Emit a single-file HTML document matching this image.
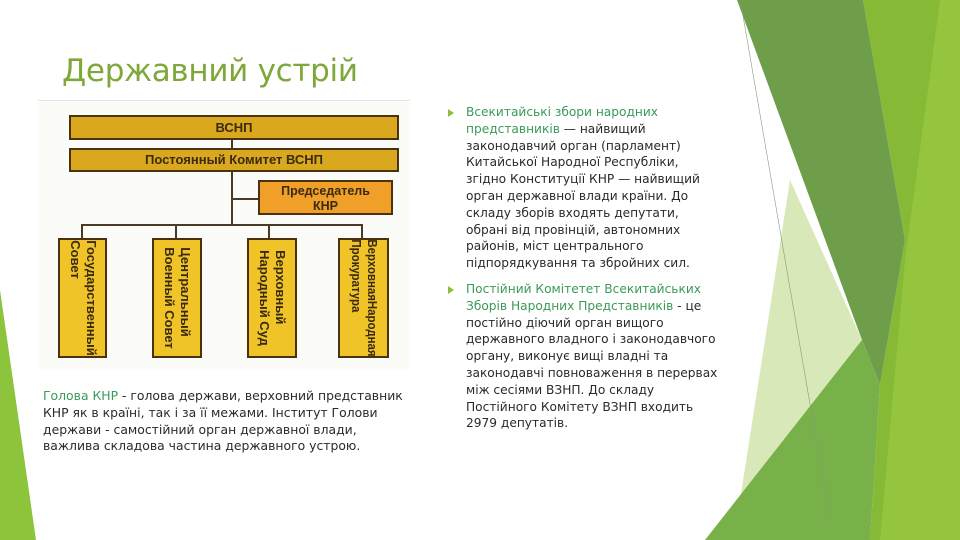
<!DOCTYPE html>
<html><head><meta charset="utf-8"><style>
html,body{margin:0;padding:0}
body{width:960px;height:540px;position:relative;overflow:hidden;background:#fff;font-family:"DejaVu Sans","Liberation Sans",sans-serif}
.t{position:absolute;white-space:nowrap}
.b{position:absolute;border:2px solid #4a3210;box-sizing:border-box;font-family:"Liberation Sans",sans-serif;font-weight:bold;color:#3a2a10;text-align:center}
.v{position:absolute;background:#f0c428;border:2px solid #4a3210;box-sizing:border-box}
.vt{position:absolute;left:50%;top:50%;transform:translate(-50%,-50%) rotate(90deg);font-family:"Liberation Sans",sans-serif;font-weight:bold;font-size:13px;line-height:16px;color:#3a2a10;text-align:left;white-space:nowrap}
.ln{position:absolute;background:#4a3a2a}
.p{position:absolute;left:466px;font-size:12.2px;line-height:16.8px;color:#2a2a2a;width:270px}
.g{color:#3a9a5a}
.tri{position:absolute;left:448px;width:0;height:0;border-top:4px solid transparent;border-bottom:4px solid transparent;border-left:6px solid #8cbf3a}
</style></head><body>
<svg width="960" height="540" style="position:absolute;left:0;top:0">
<polygon points="0,290 0,540 36,540" fill="#8cc43c"/>
<polygon points="863,0 960,0 960,540 870,540 880,385 905,240" fill="#86b936"/>
<polygon points="940,0 960,0 960,540 880,540 905,260" fill="#95c43e"/>
<polygon points="737,0 863,0 905,240 880,385 862,340" fill="#6e9e4a"/>
<polygon points="790,180 862,340 740,500" fill="#d8e8b8"/>
<polygon points="705,540 862,340 880,385 870,540" fill="#78b04a"/>
<line x1="742" y1="10" x2="830" y2="520" stroke="#8a9a80" stroke-width="0.6"/>
</svg>
<div class="t" style="left:62px;top:53px;font-size:31px;color:#7fa83a;font-family:'DejaVu Sans',sans-serif;letter-spacing:-0.3px">Державний устрій</div>
<div style="position:absolute;left:38px;top:100px;width:372px;height:1px;background:#e6e6e6"></div>
<div style="position:absolute;left:38px;top:102px;width:372px;height:268px;background:#fbfbf8"></div>
<div class="b" style="left:69px;top:115px;width:330px;height:25px;background:#d9a81e;font-size:13px;line-height:21px">ВСНП</div>
<div class="b" style="left:69px;top:148px;width:330px;height:24px;background:#d9a81e;font-size:13px;line-height:20px">Постоянный Комитет ВСНП</div>
<div class="ln" style="left:231px;top:140px;width:2px;height:8px"></div>
<div class="ln" style="left:231px;top:172px;width:2px;height:54px"></div>
<div class="ln" style="left:232px;top:198px;width:26px;height:2px"></div>
<div class="b" style="left:258px;top:180px;width:135px;height:35px;background:#f0a028;font-size:12.5px;line-height:15px;padding-top:2px">Председатель<br>КНР</div>
<div class="ln" style="left:82px;top:224px;width:281px;height:2px"></div>
<div class="ln" style="left:81px;top:224px;width:2px;height:14px"></div>
<div class="ln" style="left:175px;top:224px;width:2px;height:14px"></div>
<div class="ln" style="left:268px;top:224px;width:2px;height:14px"></div>
<div class="ln" style="left:361px;top:224px;width:2px;height:14px"></div>
<div class="v" style="left:58px;top:238px;width:49px;height:120px"><div class="vt">Государственный<br>Совет</div></div>
<div class="v" style="left:152px;top:238px;width:50px;height:120px"><div class="vt">Центральный<br>Военный Совет</div></div>
<div class="v" style="left:247px;top:238px;width:50px;height:120px"><div class="vt">Верховный<br>Народный Суд</div></div>
<div class="v" style="left:338px;top:238px;width:51px;height:120px"><div class="vt" style="transform:translate(-50%,-50%) rotate(90deg) scaleX(0.88)">ВерховнаяНародная<br>Прокуратура</div></div>
<div class="t" style="left:43px;top:388px;font-size:12.4px;line-height:16.8px;color:#2a2a2a"><span class="g">Голова КНР</span> - голова держави, верховний представник<br>КНР як в країні, так і за її межами. Інститут Голови<br>держави - самостійний орган державної влади,<br>важлива складова частина державного устрою.</div>
<div class="tri" style="top:109px"></div>
<div class="p" style="top:104px"><span class="g">Всекитайські збори народних<br>представників</span> — найвищий<br>законодавчий орган (парламент)<br>Китайської Народної Республіки,<br>згідно Конституції КНР — найвищий<br>орган державної влади країни. До<br>складу зборів входять депутати,<br>обрані від провінцій, автономних<br>районів, міст центрального<br>підпорядкування та збройних сил.</div>
<div class="tri" style="top:286px"></div>
<div class="p" style="top:281px"><span class="g">Постійний Комітетет Всекитайських<br>Зборів Народних Представників</span> - це<br>постійно діючий орган вищого<br>державного владного і законодавчого<br>органу, виконує вищі владні та<br>законодавчі повноваження в перервах<br>між сесіями ВЗНП. До складу<br>Постійного Комітету ВЗНП входить<br>2979 депутатів.</div>
</body></html>
